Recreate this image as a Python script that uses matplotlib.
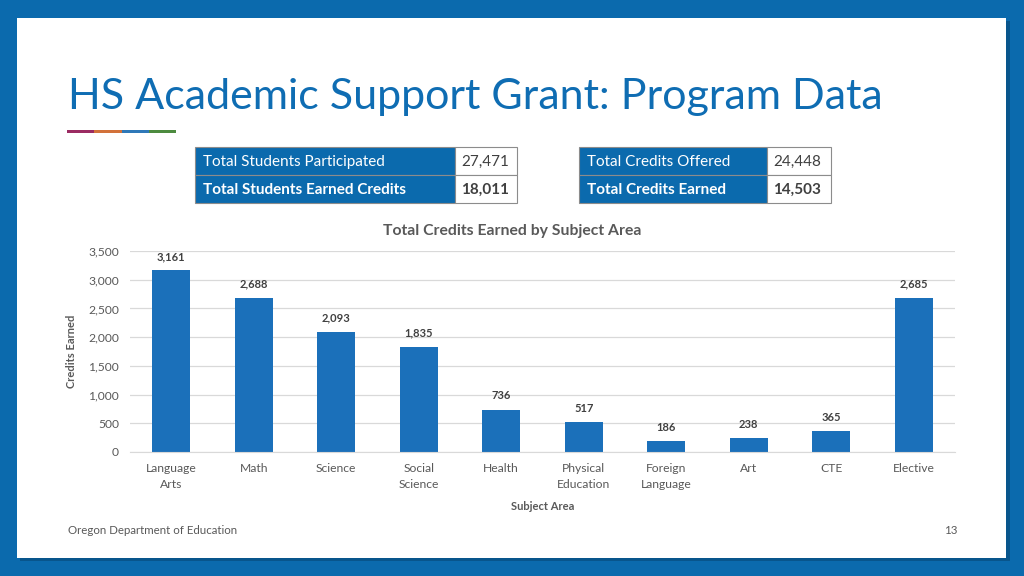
import matplotlib
matplotlib.use("Agg")

import matplotlib.pyplot as plt
from matplotlib.patches import Rectangle
from matplotlib.ticker import FuncFormatter, MultipleLocator


subjects = [
    "Language\nArts", "Math", "Science", "Social\nScience", "Health",
    "Physical\nEducation", "Foreign\nLanguage", "Art", "CTE", "Elective",
]
credits_earned = [3161, 2688, 2093, 1835, 736, 517, 186, 238, 365, 2685]

students_labels = ["Total Students Participated", "Total Students Earned Credits"]
students_values = ["27,471", "18,011"]
credit_labels = ["Total Credits Offered", "Total Credits Earned"]
credit_values = ["24,448", "14,503"]

FRAME_BLUE = "#0b6aad"
TITLE_BLUE = "#0f6db3"
BAR_BLUE = "#1b70ba"
TEXT_GREY = "#595959"
GRID_GREY = "#d9d9d9"
ACCENTS = ["#9b2b62", "#d2713a", "#2f78b8", "#4d8b3f"]

plt.rcParams["font.family"] = ["Lato", "DejaVu Sans"]

fig = plt.figure(figsize=(10.24, 5.76), dpi=100)
fig.patch.set_facecolor(FRAME_BLUE)

# page-level layer in pixel coordinates
bg = fig.add_axes([0, 0, 1, 1], zorder=0)
bg.set_xlim(0, 1024)
bg.set_ylim(576, 0)
bg.axis("off")

# white slide with a soft shadow
bg.add_patch(Rectangle((20, 21), 990, 540, facecolor="#08558c", edgecolor="none"))
bg.add_patch(Rectangle((17, 18), 989, 540, facecolor="white", edgecolor="none"))

bg.text(68, 97, "HS Academic Support Grant: Program Data", fontsize=31,
        color=TITLE_BLUE, va="center", ha="left")
for i, c in enumerate(ACCENTS):
    bg.add_patch(Rectangle((67 + i * 27.25, 129.5), 27.25, 3, facecolor=c,
                           edgecolor="none"))


def draw_table(x0, label_w, value_w, labels, values):
    row_h = 28
    y0 = 147
    for r, (lab, val) in enumerate(zip(labels, values)):
        y = y0 + r * row_h
        bg.add_patch(Rectangle((x0, y), label_w, row_h, facecolor=FRAME_BLUE,
                               edgecolor="#8c8c8c", lw=0.8))
        bg.add_patch(Rectangle((x0 + label_w, y), value_w, row_h,
                               facecolor="white", edgecolor="#8c8c8c", lw=0.8))
        weight = "bold" if r == 1 else "normal"
        bg.text(x0 + 8, y + row_h / 2 + 1, lab, fontsize=11, color="white",
                va="center", ha="left", fontweight=weight)
        bg.text(x0 + label_w + 6, y + row_h / 2 + 1, val, fontsize=11,
                color="#404040", va="center", ha="left", fontweight=weight)


draw_table(195, 260, 62, students_labels, students_values)
draw_table(579, 188, 64, credit_labels, credit_values)

bg.text(512, 231, "Total Credits Earned by Subject Area", fontsize=11.3,
        fontweight="bold", color=TEXT_GREY, ha="center", va="center")
bg.text(68, 531, "Oregon Department of Education", fontsize=8.3,
        color=TEXT_GREY, ha="left", va="center")
bg.text(958, 531, "13", fontsize=8.3, color=TEXT_GREY, ha="right", va="center")

# chart
ax = fig.add_axes([130 / 1024, 1 - 452 / 576, 825 / 1024, 201 / 576], zorder=1)
ax.patch.set_alpha(0)
x = range(len(subjects))
bars = ax.bar(x, credits_earned, width=0.46, color=BAR_BLUE, zorder=2)
ax.set_xlim(-0.5, len(subjects) - 0.5)
ax.set_ylim(0, 3500)
ax.yaxis.set_major_locator(MultipleLocator(500))
ax.yaxis.set_major_formatter(FuncFormatter(lambda v, p: f"{int(v):,}"))
ax.grid(axis="y", color=GRID_GREY, lw=0.9, zorder=0)
for side in ["top", "right", "left"]:
    ax.spines[side].set_visible(False)
ax.spines["bottom"].set_color(GRID_GREY)
ax.tick_params(length=0, labelsize=8.7, colors=TEXT_GREY, pad=8)
ax.set_xticks(list(x))
ax.set_xticklabels(subjects, linespacing=1.5)

for rect, v in zip(bars, credits_earned):
    ax.annotate(f"{v:,}", (rect.get_x() + rect.get_width() / 2, v),
                xytext=(0, 6), textcoords="offset points", ha="center",
                va="bottom", fontsize=8, fontweight="bold", color="#404040")

ax.set_ylabel("Credits Earned", fontsize=8, fontweight="bold", color=TEXT_GREY,
              labelpad=8)
ax.set_xlabel("Subject Area", fontsize=8, fontweight="bold", color=TEXT_GREY,
              labelpad=8)

fig.savefig("out.png", dpi=100, facecolor=fig.get_facecolor())
